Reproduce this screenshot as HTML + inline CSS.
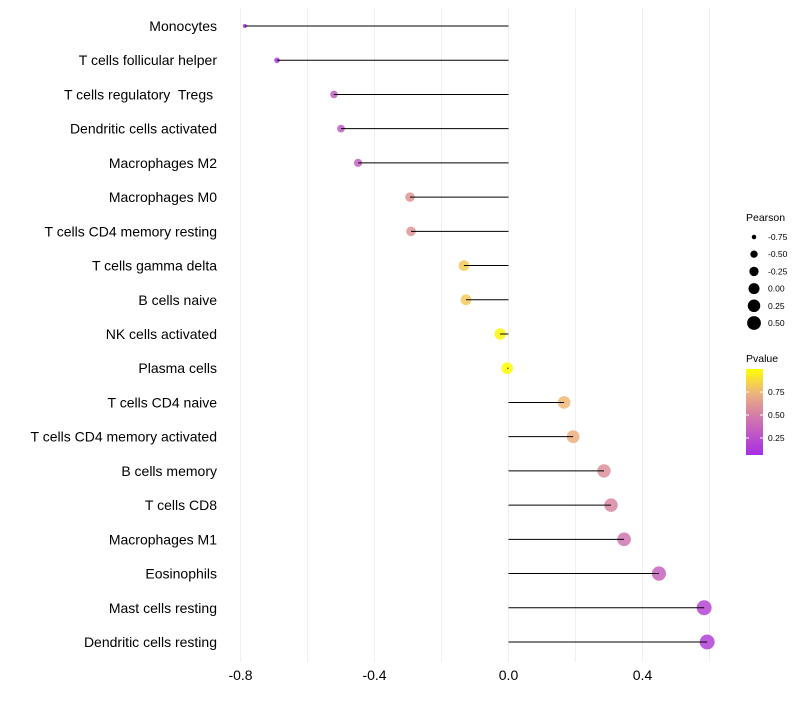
<!DOCTYPE html>
<html><head><meta charset="utf-8"><style>
body{margin:0;background:#fff;font-family:"Liberation Sans",sans-serif}
text{white-space:pre}
</style></head><body>
<svg id="c" width="800" height="700" xmlns="http://www.w3.org/2000/svg"></svg>
<script>
const cells=["Monocytes","T cells follicular helper","T cells regulatory  Tregs ","Dendritic cells activated","Macrophages M2","Macrophages M0","T cells CD4 memory resting","T cells gamma delta","B cells naive","NK cells activated","Plasma cells","T cells CD4 naive","T cells CD4 memory activated","B cells memory","T cells CD8","Macrophages M1","Eosinophils","Mast cells resting","Dendritic cells resting"];
const pearson=[-0.787,-0.691,-0.521,-0.500,-0.449,-0.294,-0.291,-0.133,-0.127,-0.025,-0.004,0.166,0.193,0.285,0.306,0.345,0.449,0.584,0.593];
const pvalue=[0.07,0.12,0.32,0.32,0.36,0.6,0.6,0.82,0.82,0.97,1.0,0.76,0.72,0.58,0.54,0.46,0.36,0.2,0.18];
const xTicks=[-0.8,-0.4,0.0,0.4];
const xMinor=[-0.6,-0.2,0.2,0.6];
const legendSizes=[-0.75,-0.50,-0.25,0.00,0.25,0.50];
const legendP=[0.25,0.50,0.75];

const NS="http://www.w3.org/2000/svg",svg=document.getElementById('c');
function mk(t,a,p){const e=document.createElementNS(NS,t);for(const k in a)e.setAttribute(k,a[k]);(p||svg).appendChild(e);return e;}
const xs=v=>508.5+v*335;
const ys=i=>26+i*(616/(cells.length-1));
const rs=v=>Math.sqrt(Math.max(1,33.8+37.7*v));
function lerp(a,b,t){return a.map((x,i)=>Math.round(x+(b[i]-x)*t));}
const stops=[[0,[160,32,240]],[0.5,[212,125,170]],[0.75,[238,182,122]],[1,[255,255,0]]];
function col(p){for(let i=1;i<stops.length;i++){if(p<=stops[i][0]){const t=(p-stops[i-1][0])/(stops[i][0]-stops[i-1][0]);return 'rgb('+lerp(stops[i-1][1],stops[i][1],t).join(',')+')';}}return 'rgb(255,255,0)';}

xTicks.concat(xMinor).forEach(v=>{const l=mk('line',{x1:xs(v),x2:xs(v),y1:8,y2:662,stroke:'#f0f0f0','stroke-width':1});
});
xTicks.forEach(v=>{const t=mk('text',{x:xs(v),y:680,'text-anchor':'middle','font-size':14,fill:'#000'});t.textContent=v.toFixed(1);
});
cells.forEach((c,i)=>{const y=ys(i);
const t=mk('text',{x:217,y:y+5,'text-anchor':'end','font-size':14,fill:'#000'});t.textContent=c;

const p=mk('circle',{cx:xs(pearson[i]),cy:y,r:rs(pearson[i]),fill:col(pvalue[i]),'fill-opacity':0.85});

const s=mk('line',{x1:xs(0),x2:xs(pearson[i]),y1:y,y2:y,stroke:'#000','stroke-width':1});
});

const lt=mk('text',{x:746,y:221,'font-size':10.5});lt.textContent='Pearson';

legendSizes.forEach((v,i)=>{const y=237+i*17.2;
const c=mk('circle',{cx:754,cy:y,r:rs(v)*0.95,fill:'#000'});
const t=mk('text',{x:768,y:y+3,'font-size':8.5});t.textContent=v.toFixed(2);});
const pt=mk('text',{x:746,y:362,'font-size':10.5});pt.textContent='Pvalue';

const defs=mk('defs',{});const g=mk('linearGradient',{id:'gr',x1:0,y1:1,x2:0,y2:0},defs);
for(let k=0;k<=10;k++){const p=0.07+k*0.093;mk('stop',{offset:k/10,'stop-color':col(p)},g);}
const bar=mk('rect',{x:746,y:369,width:17,height:86,fill:'url(#gr)'});
legendP.forEach(v=>{const y=461-v*92;
mk('line',{x1:746,x2:749,y1:y,y2:y,stroke:'#fff'});mk('line',{x1:760,x2:763,y1:y,y2:y,stroke:'#fff'});
const t=mk('text',{x:768,y:y+3,'font-size':8.5});t.textContent=v.toFixed(2);});
</script>
</body></html>
